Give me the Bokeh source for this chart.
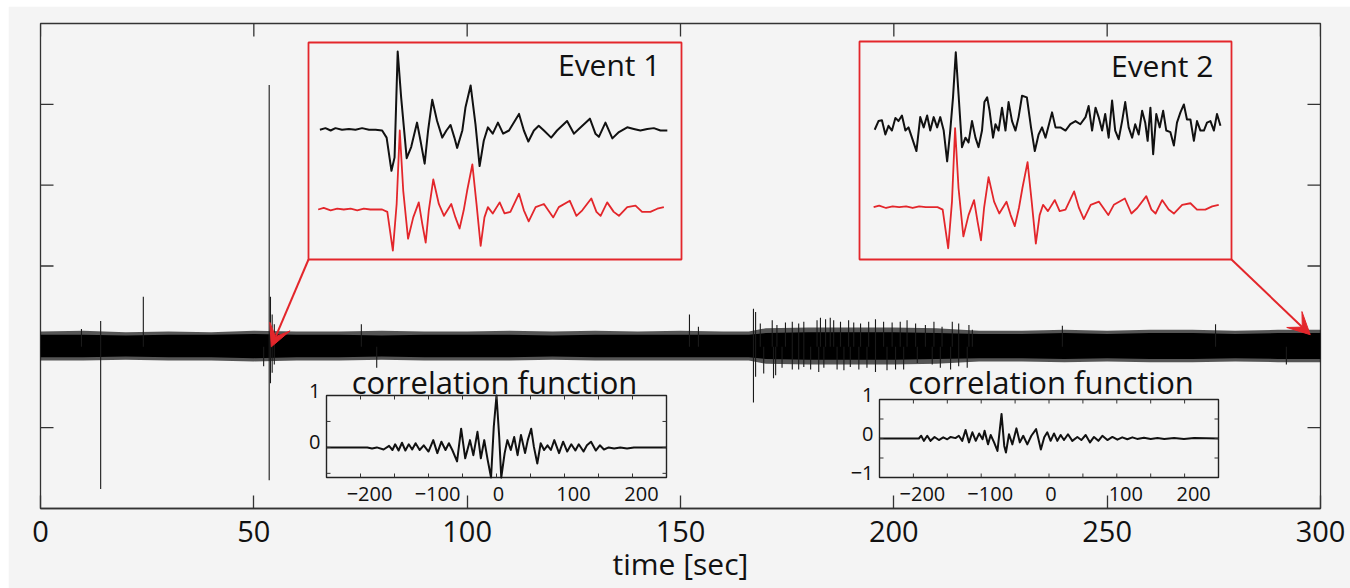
from bokeh.plotting import figure
from bokeh.models import Range1d, FixedTicker, Arrow, VeeHead
from bokeh.embed import file_html
from bokeh.resources import INLINE
from bokeh.core.properties import value

# ---------------- data ----------------
x_ticks = [0, 50, 100, 150, 200, 250, 300]
x_tick_labels = ["0", "50", "100", "150", "200", "250", "300"]
y_ticks = [-1, 0, 1, 2, 3]

# continuous record: envelope of the noise band (time [s], amplitude)
env_t = [0, 10, 20, 30, 40, 50, 60, 70, 80, 90, 100, 110, 120, 130, 140, 150, 160, 166,
         170, 180, 190, 200, 210, 220, 230, 240, 250, 260, 270, 280, 290, 300]
core_top = [0.15, 0.15, 0.14, 0.15, 0.15, 0.16, 0.15, 0.15, 0.14, 0.15, 0.15, 0.15, 0.14, 0.15, 0.15, 0.15,
            0.15, 0.15, 0.17, 0.18, 0.18, 0.18, 0.17, 0.16, 0.16, 0.17, 0.16, 0.17, 0.17, 0.16, 0.17, 0.17]
core_bot = [-0.13, -0.13, -0.12, -0.13, -0.13, -0.14, -0.13, -0.13, -0.12, -0.13, -0.13, -0.13, -0.12, -0.13,
            -0.13, -0.13, -0.13, -0.13, -0.15, -0.16, -0.16, -0.16, -0.15, -0.14, -0.14, -0.15, -0.14, -0.15,
            -0.15, -0.14, -0.15, -0.15]
fuzz_top = [0.19, 0.20, 0.18, 0.19, 0.18, 0.20, 0.19, 0.19, 0.20, 0.19, 0.19, 0.20, 0.19, 0.20, 0.19, 0.20,
            0.19, 0.19, 0.23, 0.24, 0.24, 0.24, 0.23, 0.20, 0.20, 0.21, 0.20, 0.21, 0.21, 0.20, 0.21, 0.21]
fuzz_bot = [-0.17, -0.17, -0.16, -0.17, -0.17, -0.18, -0.17, -0.17, -0.16, -0.17, -0.17, -0.17, -0.16, -0.17,
            -0.17, -0.17, -0.17, -0.17, -0.21, -0.22, -0.22, -0.22, -0.21, -0.18, -0.18, -0.19, -0.18, -0.19,
            -0.19, -0.18, -0.19, -0.19]

# individual spikes in the record: time, top, bottom
spike_t = [9.6, 14.1, 24.1, 52.3, 53.6, 53.9, 54.3, 54.8, 75.2, 78.8, 152.1, 154.2, 167.1, 167.6,
           168.7, 169.5, 171.5, 171.8, 172.3, 172.6, 173.8, 174.6, 176.2, 177.7, 178.9, 180.5, 182.0, 182.4,
           182.8, 183.6, 184.0, 185.1, 185.9, 186.7, 187.5, 188.3, 189.4, 189.8, 190.6, 191.8, 192.2, 193.7,
           194.1, 195.7, 197.6, 198.4, 199.6, 200.4, 201.5, 202.3, 203.1, 205.1, 205.5, 207.4, 209.0, 209.4,
           210.9, 211.3, 213.3, 213.7, 215.2, 217.2, 217.6, 218.4, 239.5, 275.4, 292.0]
spike_hi = [0.22, 0.32, 0.62, 0.0, 3.24, 0.62, 0.40, 0.28, 0.28, 0.0, 0.40, 0.25, 0.47, 0.43,
            0.29, 0.0, 0.33, 0.0, 0.0, 0.27, 0.0, 0.30, 0.31, 0.29, 0.31, 0.0, 0.33, 0.0,
            0.36, 0.0, 0.34, 0.36, 0.33, 0.0, 0.31, 0.0, 0.33, 0.0, 0.30, 0.0, 0.29, 0.0,
            0.31, 0.34, 0.31, 0.0, 0.30, 0.0, 0.31, 0.0, 0.33, 0.29, 0.0, 0.27, 0.0, 0.31,
            0.0, 0.25, 0.0, 0.31, 0.29, 0.0, 0.27, 0.21, 0.26, 0.28, 0.0]
spike_lo = [0.0, -1.76, 0.0, -0.24, -1.65, -0.45, -0.32, -0.22, 0.0, -0.26, 0.0, 0.0, -0.69, -0.37,
            0.0, -0.33, 0.0, -0.39, -0.35, 0.0, -0.26, 0.0, -0.28, -0.28, -0.25, -0.28, 0.0, -0.31,
            0.0, -0.26, 0.0, 0.0, 0.0, -0.28, 0.0, -0.29, 0.0, -0.25, 0.0, -0.28, 0.0, -0.26,
            0.0, -0.31, 0.0, -0.29, 0.0, -0.28, 0.0, -0.28, 0.0, 0.0, -0.20, 0.0, -0.22, 0.0,
            -0.26, 0.0, -0.28, 0.0, -0.24, -0.26, 0.0, 0.0, 0.0, 0.0, -0.22]

event_t = [54.1, 297.6]   # where the arrows point on the record
event_v = [0.0, 0.15]
event_names = ["Event 1", "Event 2"]

# template waveform (red), window time and normalised amplitude
tmpl_tau = [0, 1.6, 3.6, 5.5, 7.4, 9.4, 11.3, 13.2, 15.1, 17.1, 18.5, 20.0, 21.6, 22.7, 23.6, 24.6, 26.0,
            27.5, 29.1, 30.1, 31.1, 32.0, 33.3, 34.9, 36.4, 38.5, 39.7, 40.9, 42.1, 43.1, 44.6, 45.8, 47.0,
            48.1, 49.1, 50.5, 52.5, 53.9, 55.6, 58.1, 59.5, 60.9, 62.9, 65.3, 68.0, 69.6, 72.8, 74.7, 76.4,
            79.0, 80.5, 81.7, 83.6, 85.5, 87.0, 89.4, 91.8, 93.7, 96.1, 98.1, 100.0]
tmpl_amp = [0, 0.02, -0.01, 0.01, 0, 0.01, -0.01, 0.01, 0, 0, 0, -0.03, -0.52, 0.07, 1.0, 0.24, -0.37,
            -0.10, 0.09, -0.18, -0.42, -0.01, 0.38, 0.07, -0.08, 0.07, -0.10, -0.24, -0.01, 0.24, 0.57, 0.07,
            -0.46, -0.10, 0.03, -0.05, 0.09, -0.05, -0.03, 0.20, -0.01, -0.15, 0.03, 0.07, -0.10, 0.03, 0.11,
            -0.08, -0.01, 0.14, -0.03, -0.08, 0.09, -0.03, -0.08, 0.03, 0.05, -0.03, -0.03, 0.01, 0.03]

# event 1 record (black)
ev1_tau = [0.5, 2.1, 3.6, 5.0, 6.9, 8.9, 10.8, 12.7, 14.7, 16.6, 18.5, 19.8, 21.2, 22.1, 23.0, 24.0, 25.6,
           26.9, 28.6, 29.6, 30.8, 31.8, 33.0, 34.4, 35.9, 37.1, 38.3, 39.4, 40.2, 41.7, 42.6, 44.1, 45.5,
           46.7, 47.9, 49.1, 50.5, 52.0, 53.5, 55.2, 58.1, 59.5, 60.8, 62.4, 63.8, 65.3, 67.4, 69.1, 72.0,
           74.0, 75.4, 78.6, 80.2, 81.2, 83.1, 85.1, 87.0, 89.4, 91.3, 93.2, 95.2, 97.1, 99.0, 101.0]
ev1_amp = [0, 0.02, -0.01, 0.02, 0, 0.01, 0, 0.02, 0, 0, -0.01, -0.10, -0.52, -0.35, 0.99, 0.41, -0.36,
           -0.22, 0.09, -0.14, -0.43, -0.01, 0.38, 0.11, -0.10, -0.01, 0.06, -0.10, -0.23, -0.01, 0.28, 0.56,
           0.07, -0.46, -0.14, 0.03, -0.05, 0.09, -0.05, -0.01, 0.20, -0.01, -0.15, -0.01, 0.05, -0.01, -0.10,
           -0.01, 0.11, -0.05, 0.01, 0.14, -0.05, -0.09, 0.09, -0.11, -0.03, 0.03, 0.01, -0.01, 0.01, 0.02,
           -0.01, -0.01]

# event 2 record (black)
ev2_tau = [0.3, 1.4, 2.4, 3.4, 4.3, 5.3, 6.3, 7.2, 8.2, 9.2, 10.1, 11.1, 12.4, 13.5, 14.5, 15.5, 16.4, 17.4,
           18.4, 19.3, 20.3, 21.3, 22.2, 23.0, 23.8, 24.6, 25.6, 26.6, 27.5, 28.5, 29.5, 30.4, 31.4, 32.1,
           32.9, 33.6, 34.6, 35.3, 36.2, 37.2, 38.2, 39.1, 40.1, 41.1, 42.0, 43.0, 44.4, 45.6, 46.7, 47.8,
           48.8, 49.8, 50.7, 51.7, 52.7, 54.1, 55.6, 57.0, 58.5, 59.9, 61.4, 62.3, 63.3, 64.3, 65.2, 66.2,
           67.1, 68.1, 69.1, 70.0, 71.0, 72.0, 72.9, 73.9, 74.9, 75.8, 76.8, 77.8, 78.7, 79.4, 80.2, 81.0,
           81.9, 82.9, 83.9, 84.8, 86.0, 87.0, 87.9, 88.9, 89.9, 90.8, 91.8, 92.8, 93.7, 94.7, 95.7, 96.6,
           97.6, 98.6, 99.5, 100.5]
ev2_amp = [-0.05, 0.06, 0.07, -0.11, 0, -0.06, 0.10, 0.06, 0.13, -0.06, -0.02, -0.15, -0.32, 0.11, -0.02,
           0.13, -0.06, 0.11, -0.02, 0.11, -0.06, -0.45, -0.06, 0.36, 0.93, 0.40, -0.27, -0.15, -0.21, 0.06,
           -0.15, -0.27, -0.06, 0.30, 0.36, 0.19, -0.15, 0.02, -0.06, 0.23, -0.06, 0.30, 0.06, -0.06, 0.11,
           0.38, 0.36, -0.02, -0.32, -0.11, -0.02, -0.15, 0, 0.17, -0.02, -0.02, -0.06, 0.02, 0.06, 0.02,
           0.11, 0.25, -0.06, 0.23, 0.11, -0.06, 0.15, -0.15, 0.32, -0.06, -0.17, 0.06, 0.30, -0.02, -0.15,
           0.02, -0.11, 0.19, 0.04, -0.19, 0.23, -0.36, 0.15, -0.02, 0.19, -0.06, -0.08, -0.25, 0.04, 0.17,
           0.27, 0.08, 0.08, -0.19, 0.06, -0.06, -0.06, 0.04, 0.06, -0.06, 0.15, 0]
record_offset = [1.01, 1.03]

# correlation functions (lag, coefficient)
corr1_lag = [-250, -195, -190, -183, -176, -166, -158, -153, -149, -144, -139, -134, -129, -124, -119, -113,
             -107, -100, -93, -87, -81, -75, -70, -65, -58, -52, -46, -39, -34, -28, -23, -18, -13, -8, -4, 0,
             4, 7, 12, 16, 21, 26, 31, 36, 42, 46, 51, 55, 60, 65, 70, 75, 80, 85, 92, 98, 104, 110, 116, 121,
             128, 133, 139, 146, 152, 158, 165, 173, 182, 192, 202, 250]
corr1_val = [0, 0, 0, -0.02, 0, -0.04, 0.03, -0.05, 0.06, -0.06, 0.09, -0.06, 0.06, -0.04, 0.08, -0.05, 0.04,
             -0.08, 0.14, -0.11, 0.11, -0.05, 0.08, -0.05, -0.27, 0.36, -0.21, 0.14, -0.15, 0.30, -0.21, 0.14,
             -0.24, -0.58, 0.40, 1.0, 0.20, -0.58, -0.11, 0.14, -0.05, 0.20, -0.15, 0.24, -0.11, 0.14, 0.36,
             0.01, -0.31, 0.08, -0.05, 0.04, -0.05, 0.14, -0.11, 0.11, -0.08, 0.06, -0.06, 0.06, -0.08, 0.04,
             0.11, -0.06, 0.04, -0.04, 0, -0.02, 0, -0.02, 0, 0]
corr2_lag = [-250, -192, -188.5, -184.6, -179.6, -174.7, -168.8, -162.4, -156, -150, -145, -138, -133, -128,
             -123, -118, -113, -108, -103, -98, -95, -90, -86, -81, -76, -70, -66, -63.5, -59, -54, -48, -43,
             -38, -32, -26, -19, -12, -7, -2.5, 2.4, 7.4, 12.3, 17.2, 22.1, 28, 34.4, 41.8, 47.7, 54.1, 60.5,
             66.4, 72.8, 78.7, 86.1, 93.5, 100.9, 108, 115.6, 123, 130, 140, 150, 160, 170, 184.5, 199, 214, 250]
corr2_val = [0, 0, 0.07, -0.06, 0.07, -0.06, 0.04, -0.04, 0.03, -0.02, 0.04, 0.01, 0.07, -0.06, 0.22, -0.10,
             0.16, -0.06, 0.13, -0.02, 0.20, -0.15, 0.09, -0.10, -0.32, 0.63, -0.19, -0.36, 0.11, -0.15, 0.26,
             -0.10, 0.07, -0.15, 0.07, 0.24, -0.28, 0.03, 0.16, -0.06, 0.13, -0.06, 0.09, -0.04, 0.11, -0.06,
             0.04, -0.04, 0.09, -0.10, 0.04, -0.06, 0.07, -0.04, 0.04, -0.03, 0.03, -0.02, 0.03, -0.01, 0.02,
             -0.01, 0.01, -0.01, 0.01, -0.01, 0.01, 0]
corr_xticks = [-200, -150, -100, -50, 0, 50, 100, 150, 200]
corr_xlabels_at = [-200, -100, 0, 100, 200]
corr_xlabels = ["\u2212200", "\u2212100", "0", "100", "200"]
corr1_yticks = [-0.5, 0, 0.5]
corr1_ylabels_at = [1, 0]
corr1_ylabels = ["1", "0"]
corr2_yticks = [-0.5, 0, 0.5]
corr2_ylabels_at = [1, 0, -1]
corr2_ylabels = ["1", "0", "\u22121"]

# ---------------- styling / layout ----------------
BG = "#f4f4f4"
RED = "#e3262b"
INK = "#111111"
AX = "#333333"
FONT = "Open Sans"
PAGE_W, PAGE_H = 1350, 588
ML, MT = 8, 6
FL, FR, FT, FB = 40, 1320, 23, 508
XMIN, XMAX = 0, 300
YMIN, YMAX = -2, 4
SXM = (XMAX - XMIN) / (FR - FL)   # data per px, main
SYM = (YMAX - YMIN) / (FB - FT)
TICK = 13


def px2x(px):
    return XMIN + (px - FL) * SXM


def py2y(py):
    return YMAX - (py - FT) * SYM


p = figure(width=PAGE_W - ML, height=PAGE_H - MT, margin=(MT, 0, 0, ML),
           x_range=Range1d(XMIN, XMAX), y_range=Range1d(YMIN, YMAX),
           output_backend="svg", toolbar_location=None,
           min_border_left=FL - ML, min_border_right=PAGE_W - FR,
           min_border_top=FT - MT, min_border_bottom=PAGE_H - FB,
           background_fill_color=BG, border_fill_color=BG,
           outline_line_color=AX, outline_line_width=1.3)
p.grid.visible = False
p.yaxis.visible = False

bx = p.xaxis[0]
bx.ticker = FixedTicker(ticks=x_ticks)
bx.major_tick_in = TICK
bx.major_tick_out = 0
bx.minor_tick_line_color = None
bx.axis_line_color = AX
bx.axis_line_width = 1.3
bx.major_tick_line_color = AX
bx.major_tick_line_width = 1.3
bx.major_label_overrides = {t: s for t, s in zip(x_ticks, x_tick_labels)}
bx.major_label_text_font = FONT
bx.major_label_text_font_size = "29px"
bx.major_label_text_color = "#111111"
bx.major_label_standoff = 12
bx.axis_label = "time [sec]"
bx.axis_label_text_font = FONT
bx.axis_label_text_font_size = "30px"
bx.axis_label_text_font_style = "normal"
bx.axis_label_text_color = "#111111"
bx.axis_label_standoff = -2

# inward ticks on top, left and right edges of the frame
ny, nx = len(y_ticks), len(x_ticks)
p.segment(x0=[XMIN] * ny, y0=y_ticks, x1=[XMIN + TICK * SXM] * ny, y1=y_ticks, line_color=AX, line_width=1.3)
p.segment(x0=[XMAX] * ny, y0=y_ticks, x1=[XMAX - TICK * SXM] * ny, y1=y_ticks, line_color=AX, line_width=1.3)
p.segment(x0=x_ticks, y0=[YMAX] * nx, x1=x_ticks, y1=[YMAX - TICK * SYM] * nx, line_color=AX, line_width=1.3)

# ---------------- continuous record ----------------
p.varea(x=env_t, y1=fuzz_bot, y2=fuzz_top, fill_color="#000000", fill_alpha=0.65)
p.varea(x=env_t, y1=core_bot, y2=core_top, fill_color="#000000")
p.segment(x0=spike_t, y0=spike_lo, x1=spike_t, y1=spike_hi, line_color="#1a1a1a", line_width=1.1)


def inset(name, box, xlim, ylim):
    L, R, T, B = box
    sx = (xlim[1] - xlim[0]) / (R - L)
    sy = (ylim[1] - ylim[0]) / (B - T)
    p.extra_x_ranges[name + "_x"] = Range1d(xlim[0] - (L - FL) * sx, xlim[1] + (FR - R) * sx)
    p.extra_y_ranges[name + "_y"] = Range1d(ylim[0] - (FB - B) * sy, ylim[1] + (T - FT) * sy)
    return dict(x_range_name=name + "_x", y_range_name=name + "_y"), sx, sy


# ---------------- event insets ----------------
event_boxes = [(308, 681, 42, 259), (859, 1231, 41, 259)]
event_xlims = [(-2.8, 105.1), (-4.1, 103.7)]
event_ylims = [(-0.633, 2.114), (-0.662, 2.097)]
title_pad = [(21, 22), (18, 24)]   # px from right / top edge of box to the title centre
records = [(ev1_tau, ev1_amp), (ev2_tau, ev2_amp)]

for i in range(2):
    kw, sx, sy = inset("ev%d" % i, event_boxes[i], event_xlims[i], event_ylims[i])
    xl, yl = event_xlims[i], event_ylims[i]
    p.quad(left=[xl[0]], right=[xl[1]], bottom=[yl[0]], top=[yl[1]],
           fill_color=BG, line_color=RED, line_width=1.8, **kw)
    tau, amp = records[i]
    p.line(tau, [a + record_offset[i] for a in amp], line_color=INK, line_width=2.0,
           line_join="round", **kw)
    p.line(tmpl_tau, tmpl_amp, line_color=RED, line_width=1.8, line_join="round", **kw)
    p.text(x=[xl[1] - title_pad[i][0] * sx], y=[yl[1] - title_pad[i][1] * sy], text=[event_names[i]],
           text_font=value(FONT), text_font_size="30px", text_align="right",
           text_baseline="middle", text_color="#111111", **kw)

# arrows from the boxes to the events on the record
arrow_start_px = [(event_boxes[0][0], event_boxes[0][3]), (event_boxes[1][1], event_boxes[1][3])]
for i in range(2):
    sxp, syp = arrow_start_px[i]
    p.add_layout(Arrow(x_start=px2x(sxp), y_start=py2y(syp), x_end=event_t[i], y_end=event_v[i],
                       line_color=RED, line_width=2.0,
                       end=VeeHead(size=22, fill_color=RED, line_color=RED, line_width=1)))

# ---------------- correlation insets ----------------
corr_boxes = [(326, 666, 395, 477), (879, 1218, 399, 477)]
corr_ylims = [(-0.58, 1.0), (-1.0, 1.0)]
corr_data = [(corr1_lag, corr1_val), (corr2_lag, corr2_val)]
corr_yt = [corr1_yticks, corr2_yticks]
corr_yl = [(corr1_ylabels_at, corr1_ylabels), (corr2_ylabels_at, corr2_ylabels)]
corr_title_rise = [14, 18]      # px above the box top to the title centre
corr_title_shift = [-2, 2]      # px horizontal shift of the title from lag 0
xlim_c = (-250, 250)

for i in range(2):
    kw, sx, sy = inset("cf%d" % i, corr_boxes[i], xlim_c, corr_ylims[i])
    yl = corr_ylims[i]
    p.quad(left=[xlim_c[0]], right=[xlim_c[1]], bottom=[yl[0]], top=[yl[1]],
           fill_color=BG, line_color="#222222", line_width=1.4, **kw)
    lag, val = corr_data[i]
    p.line(lag, val, line_color=INK, line_width=2.0, line_join="round", **kw)
    tl = 4
    n = len(corr_xticks)
    p.segment(x0=corr_xticks, y0=[yl[0]] * n, x1=corr_xticks, y1=[yl[0] + tl * sy] * n,
              line_color="#333333", line_width=1, **kw)
    p.segment(x0=corr_xticks, y0=[yl[1]] * n, x1=corr_xticks, y1=[yl[1] - tl * sy] * n,
              line_color="#333333", line_width=1, **kw)
    m = len(corr_yt[i])
    p.segment(x0=[xlim_c[0]] * m, y0=corr_yt[i], x1=[xlim_c[0] + tl * sx] * m, y1=corr_yt[i],
              line_color="#333333", line_width=1, **kw)
    p.segment(x0=[xlim_c[1]] * m, y0=corr_yt[i], x1=[xlim_c[1] - tl * sx] * m, y1=corr_yt[i],
              line_color="#333333", line_width=1, **kw)
    lab_x = [a + (2 if a == 0 else 9) * sx for a in corr_xlabels_at]
    p.text(x=lab_x, y=[yl[0] - 16 * sy] * len(lab_x), text=corr_xlabels,
           text_font=value(FONT), text_font_size="20px", text_align="center",
           text_baseline="middle", text_color="#111111", **kw)
    at, labs = corr_yl[i]
    p.text(x=[xlim_c[0] - 6 * sx] * len(at), y=[a + 5 * sy for a in at], text=labs,
           text_font=value(FONT), text_font_size="20px", text_align="right",
           text_baseline="middle", text_color="#111111", **kw)
    p.text(x=[0 + corr_title_shift[i] * sx], y=[yl[1] + corr_title_rise[i] * sy], text=["correlation function"],
           text_font=value(FONT), text_font_size="31px", text_align="center",
           text_baseline="middle", text_color="#111111", **kw)

open("out.html", "w").write(file_html(p, INLINE))
